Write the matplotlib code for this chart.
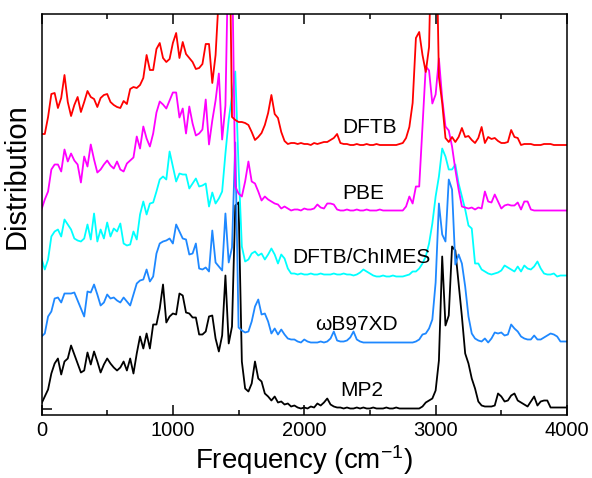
import numpy as np
import matplotlib
matplotlib.use("Agg")
import matplotlib.pyplot as plt
from matplotlib.ticker import MultipleLocator

plt.rcParams['font.family'] = ['Liberation Sans', 'DejaVu Sans']
plt.rcParams['mathtext.default'] = 'regular'

# frequency grid (cm^-1), one point every 25
freq = np.arange(0, 4001, 25)

# heights above each curve's own baseline (arbitrary units)
mp2 = [5, 12, 19, 35, 45, 50, 34, 47, 50, 63,
       54, 45, 36, 38, 56, 44, 57, 47, 36, 44,
       50, 45, 41, 38, 41, 47, 38, 50, 35, 55,
       72, 60, 75, 60, 84, 84, 100, 124, 86, 92,
       95, 94, 115, 113, 96, 95, 91, 91, 74, 74,
       77, 92, 93, 70, 57, 73, 133, 65, 82, 203,
       206, 47, 20, 17, 25, 47, 30, 27, 15, 12,
       8, 12, 6, 7, 4, 5, 2, 3, 1, 0,
       1, 0, 2, 1, 5, 3, 6, 10, 4, 2,
       1, 1, 0, 1, 0, 0, 1, 0, 1, 0,
       0, 1, 0, 0, 0, 1, 0, 0, 1, 0,
       0, 0, 0, 0, 0, 0, 2, 6, 8, 10,
       18, 48, 152, 83, 93, 162, 158, 125, 92, 55,
       45, 30, 20, 7, 3, 2, 2, 2, 3, 15,
       12, 7, 8, 13, 15, 8, 6, 4, 2, 7,
       12, 3, 7, 8, 8, 1, 1, 1, 1, 1,
       1]

wb97xd = [6, 9, 26, 31, 44, 45, 40, 49, 49, 49,
          50, 42, 34, 26, 51, 50, 58, 48, 37, 40,
          48, 44, 45, 42, 40, 45, 41, 37, 48, 59,
          62, 63, 73, 61, 66, 89, 99, 101, 102, 104,
          99, 118, 111, 104, 103, 88, 89, 99, 74, 73,
          75, 71, 112, 80, 76, 72, 129, 80, 95, 200,
          15, 12, 10, 11, 21, 36, 43, 28, 29, 21,
          9, 14, 8, 13, 8, 4, 3, 3, 1, 0,
          3, 1, 0, 0, 0, 1, 0, 1, 4, 11,
          2, 1, 1, 2, 5, 11, 3, 1, 0, 0,
          0, 0, 0, 0, 0, 0, 0, 0, 0, 0,
          0, 0, 0, 0, 1, 3, 8, 9, 14, 23,
          60, 139, 108, 101, 163, 153, 78, 88, 79, 56,
          26, 9, 4, 2, 1, 4, 0, 4, 10, 9,
          10, 7, 8, 18, 14, 11, 6, 4, 3, 3,
          7, 3, 3, 5, 7, 9, 8, 6, 1, 1,
          1]

chimes = [18, 7, 17, 40, 45, 47, 40, 57, 52, 47,
          38, 36, 35, 38, 52, 37, 63, 35, 47, 38,
          54, 40, 48, 45, 53, 33, 31, 32, 45, 37,
          62, 75, 62, 73, 74, 85, 97, 100, 97, 125,
          110, 95, 103, 102, 102, 88, 93, 98, 90, 91,
          93, 70, 84, 73, 78, 85, 123, 157, 180, 205,
          110, 30, 15, 17, 23, 25, 21, 23, 17, 22,
          28, 22, 13, 22, 18, 8, 3, 3, 2, 3,
          2, 2, 3, 2, 2, 3, 2, 2, 2, 3,
          2, 2, 3, 2, 2, 1, 2, 4, 7, 5,
          3, 1, 0, 0, 1, 0, 0, 1, 0, 0,
          0, 1, 2, 5, 5, 8, 13, 20, 33, 53,
          80, 100, 128, 120, 107, 107, 112, 93, 80, 67,
          51, 48, 13, 13, 7, 5, 3, 2, 3, 4,
          6, 11, 9, 7, 5, 10, 5, 11, 8, 7,
          10, 15, 8, 3, 2, 2, 3, 0, 1, 1,
          1]

pbe = [1, 11, 19, 41, 46, 46, 39, 61, 49, 57,
       50, 46, 28, 54, 44, 66, 51, 38, 41, 46,
       50, 45, 42, 49, 41, 39, 47, 50, 53, 74,
       62, 84, 72, 64, 77, 98, 109, 106, 102, 110,
       118, 118, 93, 102, 77, 104, 87, 75, 77, 81,
       111, 66, 90, 110, 137, 71, 105, 280, 260, 24,
       17, 14, 29, 49, 29, 27, 19, 10, 14, 11,
       9, 7, 6, 2, 4, 2, 0, 1, 1, 0,
       2, 1, 1, 2, 6, 3, 2, 7, 7, 6,
       1, 0, 0, 1, 0, 0, 1, 0, 0, 1,
       0, 0, 0, 1, 0, 0, 0, 0, 0, 0,
       0, 4, 14, 7, 24, 24, 84, 144, 140, 107,
       116, 152, 112, 84, 80, 64, 41, 21, 4, 3,
       2, 3, 1, 3, 2, 19, 9, 8, 16, 9,
       2, 5, 6, 5, 5, 8, 1, 9, 9, 1,
       0, 0, 0, 0, 0, 0, 0, 0, 0, 0,
       0]

dftb = [11, 11, 28, 51, 52, 37, 47, 70, 43, 29,
        40, 48, 33, 43, 54, 48, 46, 38, 47, 50,
        51, 43, 40, 38, 37, 44, 41, 56, 58, 57,
        60, 67, 90, 75, 75, 96, 102, 87, 83, 86,
        102, 112, 87, 103, 91, 87, 83, 76, 77, 81,
        101, 101, 62, 90, 150, 280, 280, 280, 28, 25,
        23, 23, 22, 20, 13, 5, 8, 12, 20, 32,
        50, 31, 27, 13, 4, 1, 2, 2, 1, 2,
        1, 1, 0, 2, 1, 2, 3, 3, 5, 7,
        11, 2, 1, 1, 0, 0, 1, 0, 0, 1,
        0, 0, 1, 0, 0, 0, 0, 0, 0, 1,
        2, 7, 18, 42, 107, 113, 90, 73, 98, 250,
        250, 68, 42, 7, 3, 8, 3, 8, 17, 8,
        9, 5, 2, 7, 18, 2, 8, 6, 7, 4,
        2, 2, 3, 15, 8, 7, 0, 1, 1, 1,
        0, 0, 0, 1, 1, 1, 0, 0, 0, 0,
        0]

names = ['MP2', '\u03c9B97XD', 'DFTB/ChIMES', 'PBE', 'DFTB']
colors = ['black', '#1E88FF', '#00FFFF', '#FF00FF', '#FF0000']
offsets = [0, 66, 132, 198, 263.5]
label_x = [2436, 2401, 2437, 2447, 2497]
label_y = [18.5, 83.5, 150.5, 215, 281]

fig = plt.figure(figsize=(5.92, 4.78), dpi=100)
ax = fig.add_axes([41.5 / 592, 1 - 415 / 478, 525.5 / 592, 401 / 478])

series = [mp2, wb97xd, chimes, pbe, dftb]
for ys, c, off in zip(series, colors, offsets):
    ax.plot(freq, np.array(ys) + off, color=c, lw=1.3)

for name, lx, ly in zip(names, label_x, label_y):
    ax.text(lx, ly, name, fontsize=15, ha='center', va='center')

ax.set_xlim(0, 4000)
ax.set_ylim(-6.5, 394.5)
ax.xaxis.set_major_locator(MultipleLocator(1000))
ax.xaxis.set_minor_locator(MultipleLocator(500))
ax.set_yticks([0])
ax.set_yticklabels([])
ax.tick_params(axis='x', which='both', direction='in', top=True, width=1.1, labelsize=14.5, pad=4.5)
ax.tick_params(axis='x', which='major', length=7.2)
ax.tick_params(axis='x', which='minor', length=3.6)
ax.tick_params(axis='y', direction='in', length=7.2, width=1.1)
for s in ax.spines.values():
    s.set_linewidth(1.1)

ax.set_xlabel('Frequency (cm$^{-1}$)', fontsize=20, labelpad=2)
ax.set_ylabel('Distribution', fontsize=21)
ax.yaxis.set_label_coords(-0.0215, 0.5945)

fig.savefig('out.png', dpi=100)
